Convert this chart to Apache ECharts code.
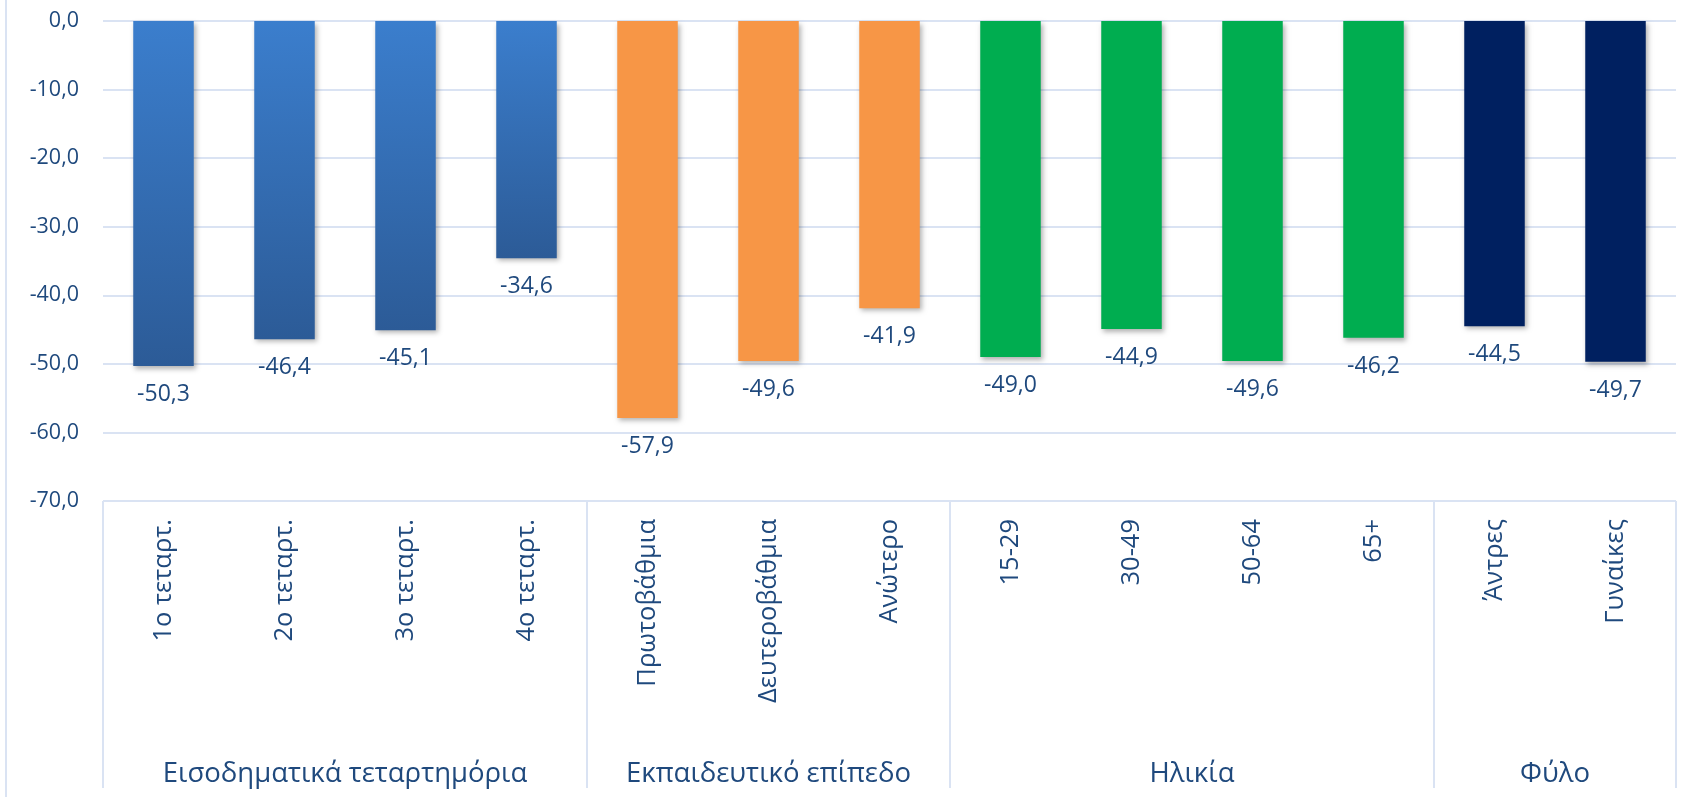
<!DOCTYPE html>
<html>
<head>
<meta charset="utf-8">
<script src="https://cdn.jsdelivr.net/npm/echarts@6/dist/echarts.min.js"></script>
<style>
  html, body { margin: 0; padding: 0; background: #fff; }
  #chart { width: 1700px; height: 797px; }
</style>
</head>
<body>
<div id="chart"></div>
<script>
// categories, grouped as in the original chart
const categories = [
  '1ο τεταρτ.', '2ο τεταρτ.', '3ο τεταρτ.', '4ο τεταρτ.',
  'Πρωτοβάθμια', 'Δευτεροβάθμια', 'Ανώτερο',
  '15-29', '30-49', '50-64', '65+',
  'Άντρες', 'Γυναίκες'
];
const values = [-50.3, -46.4, -45.1, -34.6, -57.9, -49.6, -41.9, -49.0, -44.9, -49.6, -46.2, -44.5, -49.7];
const groupNames = ['Εισοδηματικά τεταρτημόρια', 'Εκπαιδευτικό επίπεδο', 'Ηλικία', 'Φύλο'];
const groupSizes = [4, 3, 4, 2];
const yMin = -70;
const yMax = 0;
const yStep = 10;

const textColor = '#1F497D';
const gridColor = '#DAE3F3';
const fontFamily = '"Open Sans", "Noto Sans", sans-serif';

const groupColors = [
  new echarts.graphic.LinearGradient(0, 0, 0, 1, [
    { offset: 0, color: '#3B7ECD' },
    { offset: 1, color: '#2C5B97' }
  ]),
  '#F79646',
  '#00AD50',
  '#002060'
];

// group boundaries and centers on a 0..13 scale
const bounds = [0];
groupSizes.forEach(n => bounds.push(bounds[bounds.length - 1] + n));
const centers = groupSizes.map((n, i) => bounds[i] + n / 2);

const barData = values.map((v, i) => {
  let g = 0;
  while (i >= bounds[g + 1]) g++;
  return {
    value: v,
    itemStyle: { color: groupColors[g] }
  };
});

const fmt = v => v.toFixed(1).replace('.', ',');

const chart = echarts.init(document.getElementById('chart'));

chart.setOption({
  animation: false,
  backgroundColor: '#fff',
  textStyle: { fontFamily: fontFamily },
  grid: { left: 103, right: 24, top: 21, bottom: 296, containLabel: false },
  xAxis: [
    {
      type: 'category',
      data: categories,
      position: 'bottom',
      axisLine: { show: false },
      axisTick: { show: false },
      axisLabel: {
        interval: 0,
        rotate: 90,
        margin: 18,
        fontSize: 25.5,
        color: textColor,
        fontFamily: fontFamily
      }
    },
    {
      type: 'value',
      min: 0,
      max: categories.length,
      position: 'bottom',
      axisLine: { show: false },
      splitLine: { show: false },
      axisTick: {
        show: true,
        customValues: bounds,
        length: 287,
        lineStyle: { color: gridColor, width: 2 }
      },
      axisLabel: {
        customValues: centers,
        margin: 259,
        fontSize: 27.5,
        color: textColor,
        fontFamily: fontFamily,
        formatter: v => groupNames[centers.indexOf(v)] || ''
      }
    }
  ],
  yAxis: {
    type: 'value',
    min: yMin,
    max: yMax,
    interval: yStep,
    axisLine: { show: false },
    axisTick: { show: false },
    axisLabel: {
      margin: 24,
      fontSize: 21.5,
      color: textColor,
      fontFamily: fontFamily,
      formatter: v => fmt(v)
    },
    splitLine: { lineStyle: { color: gridColor, width: 2 } }
  },
  series: [
    {
      type: 'bar',
      xAxisIndex: 0,
      barWidth: '50%',
      data: barData,
      itemStyle: {
        shadowColor: 'rgba(0, 0, 0, 0.3)',
        shadowBlur: 5,
        shadowOffsetX: 2,
        shadowOffsetY: 3
      },
      label: {
        show: true,
        position: 'bottom',
        distance: 17,
        fontSize: 23,
        color: textColor,
        fontFamily: fontFamily,
        formatter: p => fmt(p.value)
      }
    }
  ],
  graphic: [
    {
      type: 'line',
      shape: { x1: 6, y1: 0, x2: 6, y2: 797 },
      style: { stroke: gridColor, lineWidth: 2 }
    }
  ]
});
</script>
</body>
</html>
